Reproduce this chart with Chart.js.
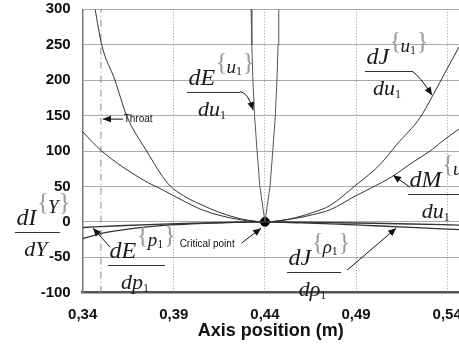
<!DOCTYPE html>
<html><head><meta charset="utf-8">
<script src="https://cdn.jsdelivr.net/npm/chart.js@4.4.0/dist/chart.umd.min.js"></script>
<style>html,body{margin:0;padding:0;background:#fff}#wrap{width:459px;height:347px;position:relative}</style>
</head><body><div id="wrap"><canvas id="c"></canvas></div>
<script>
// ---- axis ticks ----
const xTickValues = [0.34, 0.39, 0.44, 0.49, 0.54];
const xTickLabels = ['0,34', '0,39', '0,44', '0,49', '0,54'];

// ---- series (x = axis position in m) ----
// dJ{u1}/du1 : steep U-shaped curve
const jU_x = [0.3468,0.3504,0.3577,0.3641,0.3751,0.3868,0.3966,0.4044,0.4154,0.4264,0.435,0.44,0.4569,0.466,0.4757,0.49,0.5032,0.5123,0.5251,0.5316,0.54,0.5465];
const jU_y = [300,250,200,150,100,54,35,25,13,4.5,0.8,0,6,13,23,52,81,109,147,176,216,247];
// dM{u1}/du1 : flatter U-shaped curve
const mU_x = [0.34,0.3504,0.3733,0.384,0.395,0.406,0.4154,0.4264,0.44,0.4569,0.466,0.4757,0.49,0.4977,0.5105,0.5196,0.5306,0.54,0.5465];
const mU_y = [127,100,59,45,30,16.5,9,3,0,5,10,17,37,47,65,81.5,100,119,131];
// dE{u1}/du1 : narrow V at the critical point
const eU_x = [0.4324,0.4328,0.4334,0.4343,0.4357,0.4372,0.44,0.4428,0.4443,0.4457,0.4466,0.4472,0.4476];
const eU_y = [300,250,200,150,100,50,0,50,100,150,200,250,300];
// dE{p1}/dp1
const eP_x = [0.34,0.35,0.36,0.37,0.38,0.39,0.40,0.41,0.42,0.43,0.44,0.46,0.48,0.50,0.52,0.5465];
const eP_y = [-23.5,-16.5,-12,-8.5,-6,-4,-2.8,-1.8,-1.1,-0.4,0,-0.5,-1.2,-2,-3,-4.5];
// dJ{rho1}/drho1
const jR_x = [0.34,0.36,0.38,0.40,0.42,0.44,0.46,0.48,0.50,0.52,0.54,0.5465];
const jR_y = [-8,-5.5,-3.5,-2,-0.8,0,-1.5,-3.3,-5.5,-7.8,-10.2,-11];
// throat and critical point
const throatX = 0.35;
const critX = [0.44];
const critY = [0];

const mk = (xs, ys) => xs.map((x, i) => ({x: x, y: ys[i]}));
const curve = (xs, ys, extra) => Object.assign({
  data: mk(xs, ys), showLine: true, borderColor: '#333', borderWidth: 1,
  pointRadius: 0, cubicInterpolationMode: 'monotone', fill: false
}, extra || {});

// ---- annotations (placed in data coordinates) ----
const fracLabels = [
  {x0:0.3972, x1:0.4263, y:183.8, num:'dE', sup:'u', supSub:'1', den:'du', denSub:'1'},
  {x0:0.4949, x1:0.5207, y:212.7, num:'dJ', sup:'u', supSub:'1', den:'du', denSub:'1'},
  {x0:0.5185, x1:0.5506, y:39.1, num:'dM', sup:'u', supSub:'1', den:'du', denSub:'1'},
  {x0:0.4521, x1:0.4818, y:-71, num:'dJ', sup:'\u03C1', supSub:'1', den:'d\u03C1', denSub:'1'},
  {x0:0.3539, x1:0.3852, y:-61.1, num:'dE', sup:'p', supSub:'1', den:'dp', denSub:'1'},
  {x0:0.3028, x1:0.3275, y:-14.5, num:'dI', sup:'Y', supSub:'', den:'dY', denSub:''}
];
const arrows = [
  {from:[0.4263,183.8], ctrl:[0.4307,183], to:[0.4335,157.7]},
  {from:[0.5207,212.7], ctrl:[0.5251,205.6], to:[0.5317,178.8]},
  {from:[0.5196,49], to:[0.5103,65.9]},
  {from:[0.4851,-68.2], to:[0.5120,-8.9]},
  {from:[0.3550,-35.7], to:[0.3457,-8.9]},
  {from:[0.4272,-30], to:[0.4379,-8.9]},
  {from:[0.3621,145], to:[0.3511,145]}
];
const plainTexts = [
  {x:0.3625, y:145, text:'Throat'},
  {x:0.3932, y:-31.5, text:'Critical point'}
];

const overlay = {
  id: 'overlay',
  afterDraw(chart) {
    const ctx = chart.ctx, sx = chart.scales.x, sy = chart.scales.y;
    const px = v => sx.getPixelForValue(v), py = v => sy.getPixelForValue(v);
    ctx.save();
    // fractions
    fracLabels.forEach(f => {
      const X0 = px(f.x0), X1 = px(f.x1), Y = Math.round(py(f.y)) + 0.5;
      ctx.strokeStyle = '#333'; ctx.lineWidth = 1;
      ctx.beginPath(); ctx.moveTo(X0, Y); ctx.lineTo(X1, Y); ctx.stroke();
      ctx.textAlign = 'left'; ctx.textBaseline = 'alphabetic';
      ctx.fillStyle = '#1a1a1a';
      ctx.font = 'italic 24px "Liberation Serif"';
      const nx = X0 + 1.5;
      ctx.fillText(f.num, nx, Y - 8);
      let s = nx + ctx.measureText(f.num).width + 0.5;
      ctx.fillStyle = '#999'; ctx.font = '25px "Liberation Serif"';
      ctx.fillText('{', s, Y - 23); s += ctx.measureText('{').width - 1;
      ctx.fillStyle = '#1a1a1a'; ctx.font = 'italic 19px "Liberation Serif"';
      ctx.fillText(f.sup, s, Y - 20); s += ctx.measureText(f.sup).width;
      if (f.supSub) { ctx.font = '12px "Liberation Serif"'; ctx.fillText(f.supSub, s, Y - 18); s += ctx.measureText(f.supSub).width + 0.5; }
      ctx.fillStyle = '#999'; ctx.font = '25px "Liberation Serif"';
      ctx.fillText('}', s, Y - 23);
      // denominator
      ctx.fillStyle = '#1a1a1a';
      ctx.font = 'italic 22px "Liberation Serif"';
      const dw = ctx.measureText(f.den).width;
      ctx.font = '12px "Liberation Serif"';
      const sw = f.denSub ? ctx.measureText(f.denSub).width : 0;
      const dx = (X0 + X1) / 2 - 1.5 - (dw + sw) / 2;
      ctx.font = 'italic 22px "Liberation Serif"';
      ctx.fillText(f.den, dx, Y + 23);
      if (f.denSub) { ctx.font = '12px "Liberation Serif"'; ctx.fillText(f.denSub, dx + dw, Y + 26); }
    });
    // arrows
    arrows.forEach(a => {
      const x1 = px(a.from[0]), y1 = py(a.from[1]), x2 = px(a.to[0]), y2 = py(a.to[1]);
      ctx.strokeStyle = '#111'; ctx.fillStyle = '#111'; ctx.lineWidth = 1;
      let ax = x1, ay = y1;
      ctx.beginPath(); ctx.moveTo(x1, y1);
      if (a.ctrl) { const cx = px(a.ctrl[0]), cy = py(a.ctrl[1]); ctx.quadraticCurveTo(cx, cy, x2, y2); ax = cx; ay = cy; }
      else ctx.lineTo(x2, y2);
      ctx.stroke();
      const ang = Math.atan2(y2 - ay, x2 - ax), L = 8, W = 3.5;
      ctx.beginPath();
      ctx.moveTo(x2, y2);
      ctx.lineTo(x2 - L * Math.cos(ang) + W * Math.sin(ang), y2 - L * Math.sin(ang) - W * Math.cos(ang));
      ctx.lineTo(x2 - L * Math.cos(ang) - W * Math.sin(ang), y2 - L * Math.sin(ang) + W * Math.cos(ang));
      ctx.closePath(); ctx.fill();
    });
    // plain texts
    ctx.fillStyle = '#111'; ctx.font = '10px "Liberation Sans"';
    ctx.textAlign = 'left'; ctx.textBaseline = 'middle';
    plainTexts.forEach(t => ctx.fillText(t.text, px(t.x), py(t.y)));
    ctx.restore();
  }
};

new Chart(document.getElementById('c'), {
  type: 'scatter',
  data: {datasets: [
    curve(jU_x, jU_y),
    curve(mU_x, mU_y),
    curve(eU_x, eU_y, {cubicInterpolationMode: 'default', tension: 0, borderColor: '#555'}),
    curve(eP_x, eP_y, {borderWidth: 1.3}),
    curve(jR_x, jR_y, {borderWidth: 1.3}),
    {data: [{x: throatX, y: -100}, {x: throatX, y: 300}], showLine: true, borderColor: '#888', borderWidth: 1,
     borderDash: [7, 3, 1, 3], pointRadius: 0},
    {data: mk(critX, critY), showLine: false, pointRadius: 4.5, backgroundColor: '#000', borderColor: '#000'}
  ]},
  options: {
    responsive: true, maintainAspectRatio: false, animation: false,
    layout: {autoPadding: false, padding: {top: 9.3, left: 0, right: 0, bottom: 0}},
    plugins: {legend: {display: false}, tooltip: {enabled: false}},
    scales: {
      x: {
        type: 'linear', min: 0.34, max: 0.5465,
        afterBuildTicks: s => { s.ticks = xTickValues.map(v => ({value: v})); },
        afterFit: s => { s.height = 54.3; s.paddingLeft = 0; s.paddingRight = 0; },
        ticks: {
          autoSkip: false, maxRotation: 0, padding: 13, color: '#111',
          font: {family: '"Liberation Sans"', size: 15, weight: 'bold'},
          callback: v => { const i = xTickValues.indexOf(v); return i >= 0 ? xTickLabels[i] : ''; }
        },
        grid: {color: '#999', lineWidth: 1, drawTicks: false},
        border: {color: '#555', width: 2.5, dash: [1, 2]},
        title: {display: true, text: 'Axis position (m)', color: '#111',
                font: {family: '"Liberation Sans"', size: 18, weight: 'bold'}, padding: {top: 0, bottom: 5}}
      },
      y: {
        type: 'linear', min: -100, max: 300,
        afterFit: s => { s.width = 82.7; s.paddingTop = 0; s.paddingBottom = 0; },
        ticks: {stepSize: 50, padding: 12, color: '#111',
                font: {family: '"Liberation Sans"', size: 15, weight: 'bold'}},
        grid: {color: '#aaa', lineWidth: 1, drawTicks: false},
        border: {color: '#777', width: 1.5}
      }
    }
  },
  plugins: [overlay]
});
</script>
</body></html>
